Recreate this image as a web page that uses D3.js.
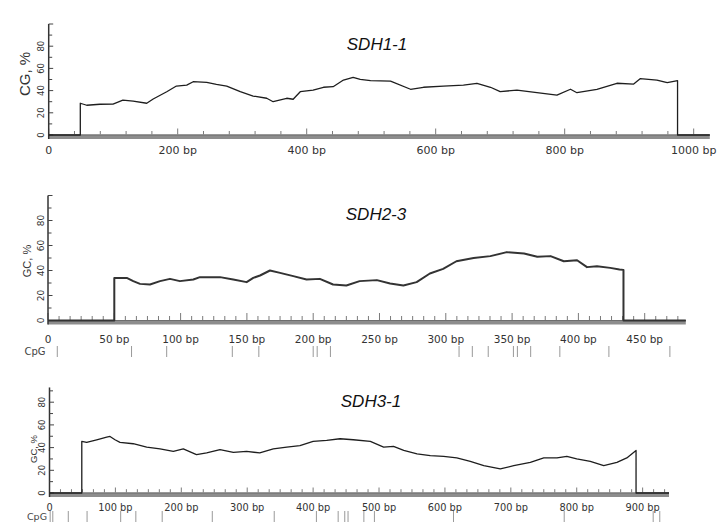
<!DOCTYPE html>
<html><head><meta charset="utf-8">
<script src="https://cdn.jsdelivr.net/npm/d3@7"></script>
<style>body{margin:0;background:#fff}svg{display:block}</style>
</head><body>
<svg id="c" width="717" height="523"></svg>
<script>
// ---------------- DATA ----------------
const titles = ["SDH1-1", "SDH2-3", "SDH3-1"];
const yAxisLabels = ["CG, %", "GC, %", "GC, %"];
const xExtentBp = [1025, 481, 940];
const xMajorStep = [200, 50, 100];
const xMinorPerMajor = [5, 6, 6];
const xLabelMax = [1000, 450, 900];
const yTickLabels = [0, 20, 40, 60, 80];
const yMinorStep = 10;
const yAxisTop = [100, 100, 93];

const sdh1Pos = [49, 59, 79.5, 99.7, 115, 131, 152, 162, 183, 198, 214, 224, 245, 260, 276, 297, 317, 338, 348, 369,
  379, 390, 410, 426, 441, 457, 472, 483, 499, 530, 561, 581, 612, 643, 664, 685, 700, 726, 757, 788,
  809, 819, 850, 881, 907, 917, 943, 959, 975];
const sdh1GC = [28.6, 26.8, 27.7, 27.9, 31.5, 30.6, 28.6, 32.4, 39, 44.1, 45, 48, 47.5, 45.7, 44.1, 39, 35.1, 33.1, 30, 33.1,
  32.2, 39, 40.5, 43, 43.5, 49.5, 52, 50.2, 48.9, 48.6, 41.2, 43, 44.1, 45, 46.6, 43, 39, 40.5, 38.1, 36,
  41.2, 38.1, 41.2, 46.6, 45.9, 50.7, 49.5, 47.1, 48.9];

const sdh2Pos = [50, 59.4, 64.3, 69.4, 76.9, 84.5, 92, 99.5, 109.6, 114.6, 129.7, 139.7, 149.8, 154.8, 159.9, 167.4, 175, 185, 195, 205,
  215, 225, 235, 248, 258, 268, 278, 288, 298, 308, 321, 333.6, 346, 359, 369, 379, 389, 399, 406.5, 414,
  424, 431, 434];
const sdh2GC = [34.1, 34.1, 31.5, 29.3, 28.8, 31.5, 33.3, 31.5, 32.8, 34.7, 34.7, 32.8, 30.7, 34.1, 36, 40, 38.1, 35.5, 32.8, 33.3,
  28.8, 28, 31.5, 32.3, 29.6, 28, 30.7, 37.6, 41.3, 47.4, 50, 51.5, 54.7, 53.6, 51, 51.5, 47.4, 48.2, 42.7, 43.4,
  42.1, 40.8, 40.5];
const sdh2CpG = [7, 63, 89.5, 139, 159, 200, 203, 213, 310, 320, 332, 351, 354, 364, 386, 423, 469];

const sdh3Pos = [49, 56.4, 71.6, 86.8, 91.8, 99.4, 107, 127, 147.5, 167.7, 187.9, 203, 223, 238.5, 258.7, 279, 299, 319, 339.6, 360,
  380, 400, 420.6, 440.8, 461, 486.8, 507, 522, 537.5, 557.7, 577.8, 598, 618, 638.5, 659, 684, 704.4, 729.6, 750, 770,
  785, 800, 820.6, 841, 861, 876, 890];
const sdh3GC = [45.4, 44.6, 46.9, 49.3, 49.8, 46.9, 44.6, 43.4, 40.5, 38.8, 36.7, 38.8, 33.8, 35.3, 38.2, 35.8, 36.7, 35.3, 38.8, 40.5,
  41.7, 45.4, 46.3, 47.8, 46.9, 45.4, 40.5, 41, 37.5, 34.4, 32.9, 32.3, 30.9, 27.9, 24.1, 21.2, 24.1, 27, 30.9, 30.9,
  32.3, 30, 27.9, 24.1, 27, 30.9, 37.5];
const sdh3CpG = [1, 5, 28.5, 57, 108, 131, 171, 247, 341, 405, 438, 448, 453, 477, 493, 613, 781, 916, 926];

const series = [
  {pos: sdh1Pos, gc: sdh1GC, cpg: null},
  {pos: sdh2Pos, gc: sdh2GC, cpg: sdh2CpG},
  {pos: sdh3Pos, gc: sdh3GC, cpg: sdh3CpG}
];

// ---------------- LAYOUT ----------------
const layout = [
  {x0: 48.7, x1: 709.8, y0: 135, y100: 24, lineW: 1.3, lineC: "#1e1e1e",
   title: {x: 377, y: 50}, ylab: {x: 24, y: 74, size: 15},
   ytl: {x: 40.5, size: 8.5}, xtl: {y: 154, size: 11}, major: 6, minor: 3.5},
  {x0: 48, x1: 685.8, y0: 320.5, y100: 195.5, lineW: 2, lineC: "#333",
   title: {x: 376, y: 220}, ylab: {x: 27, y: 261, size: 11},
   ytl: {x: 41, size: 9}, xtl: {y: 343, size: 10.5}, major: 7, minor: 4,
   cpg: {lx: 35, ly: 355, top: 346, bot: 357, size: 10}},
  {x0: 49.5, x1: 669, y0: 493, y100: 379.5, lineW: 1.3, lineC: "#1e1e1e",
   title: {x: 371, y: 406.5}, ylab: {x: 33, y: 449, size: 9.5},
   ytl: {x: 42, size: 8.5}, xtl: {y: 511, size: 9.8}, major: 5, minor: 3.3,
   cpg: {lx: 37, ly: 520, top: 511, bot: 522, size: 9.5}}
];

const svg = d3.select("#c");
svg.append("rect").attr("width", 717).attr("height", 523).attr("fill", "#fff");

series.forEach((s, i) => {
  const L = layout[i];
  const g = svg.append("g");
  const x = d3.scaleLinear().domain([0, xExtentBp[i]]).range([L.x0, L.x1]);
  const y = d3.scaleLinear().domain([0, 100]).range([L.y0, L.y100]);

  // baseline band
  g.append("rect").attr("x", x(0)).attr("y", y(0) - 0.5)
    .attr("width", x(xExtentBp[i]) - x(0)).attr("height", 4.5).attr("fill", "#8d8d8d");
  g.append("line").attr("x1", x(0)).attr("x2", x(xExtentBp[i])).attr("y1", y(0)).attr("y2", y(0))
    .attr("stroke", "#6d6d6d").attr("stroke-width", 1);

  // x ticks
  const minorStep = xMajorStep[i] / xMinorPerMajor[i];
  const nT = Math.floor(xExtentBp[i] / minorStep + 1e-6);
  const ticks = d3.range(0, nT + 1).map(k => k * minorStep);
  g.selectAll(".xt").data(ticks).join("line")
    .attr("x1", d => x(d)).attr("x2", d => x(d))
    .attr("y1", y(0) - 0.5)
    .attr("y2", (d, k) => y(0) - 0.5 - (k % xMinorPerMajor[i] === 0 ? L.major : L.minor))
    .attr("stroke", "#7a7a7a").attr("stroke-width", 1);

  // x tick labels
  const labs = d3.range(0, xLabelMax[i] + 1, xMajorStep[i]);
  g.selectAll(".xl").data(labs).join("text")
    .attr("x", d => x(d)).attr("y", L.xtl.y)
    .attr("text-anchor", "middle")
    .attr("font-family", "DejaVu Sans").attr("font-size", L.xtl.size).attr("fill", "#333")
    .text(d => d === 0 ? "0" : d + " bp");

  // y axis
  g.append("line").attr("x1", x(0)).attr("x2", x(0))
    .attr("y1", y(0) + 4).attr("y2", y(yAxisTop[i]))
    .attr("stroke", "#333").attr("stroke-width", 1.5);
  const yt = d3.range(0, yAxisTop[i] + 0.1, yMinorStep);
  g.selectAll(".yt").data(yt).join("line")
    .attr("x1", x(0)).attr("x2", d => x(0) + (d % 20 === 0 ? 4.5 : 3.5))
    .attr("y1", d => y(d)).attr("y2", d => y(d))
    .attr("stroke", "#444").attr("stroke-width", 1);
  g.selectAll(".yl").data(yTickLabels).join("text")
    .attr("transform", d => `translate(${L.ytl.x},${y(d)}) rotate(-90)`)
    .attr("text-anchor", "middle").attr("dominant-baseline", "central")
    .attr("font-family", "DejaVu Sans").attr("font-size", L.ytl.size).attr("fill", "#333")
    .text(d => d);

  // y axis label
  g.append("text")
    .attr("transform", `translate(${L.ylab.x},${L.ylab.y}) rotate(-90)`)
    .attr("text-anchor", "middle").attr("dominant-baseline", "central")
    .attr("font-family", "Liberation Sans").attr("font-size", L.ylab.size).attr("fill", "#333")
    .text(yAxisLabels[i]);

  // title
  g.append("text").attr("x", L.title.x).attr("y", L.title.y)
    .attr("text-anchor", "middle").attr("font-family", "Liberation Sans")
    .attr("font-style", "italic").attr("font-size", 17).attr("fill", "#111")
    .text(titles[i]);

  // GC line
  const pts = [[0, 0], [s.pos[0], 0]];
  s.pos.forEach((p, k) => pts.push([p, s.gc[k]]));
  pts.push([s.pos[s.pos.length - 1], 0], [xExtentBp[i], 0]);
  const line = d3.line().x(d => x(d[0])).y(d => y(d[1]));
  g.append("path").attr("d", line(pts)).attr("fill", "none")
    .attr("stroke", L.lineC).attr("stroke-width", L.lineW).attr("stroke-linejoin", "round");

  // CpG row
  if (s.cpg) {
    g.append("text").attr("x", L.cpg.lx).attr("y", L.cpg.ly)
      .attr("text-anchor", "middle").attr("font-family", "DejaVu Sans")
      .attr("font-size", L.cpg.size).attr("fill", "#444").text("CpG");
    g.selectAll(".cpg").data(s.cpg).join("line")
      .attr("x1", d => x(d)).attr("x2", d => x(d))
      .attr("y1", L.cpg.top).attr("y2", L.cpg.bot)
      .attr("stroke", "#999").attr("stroke-width", 1);
  }
});
</script>
</body></html>
